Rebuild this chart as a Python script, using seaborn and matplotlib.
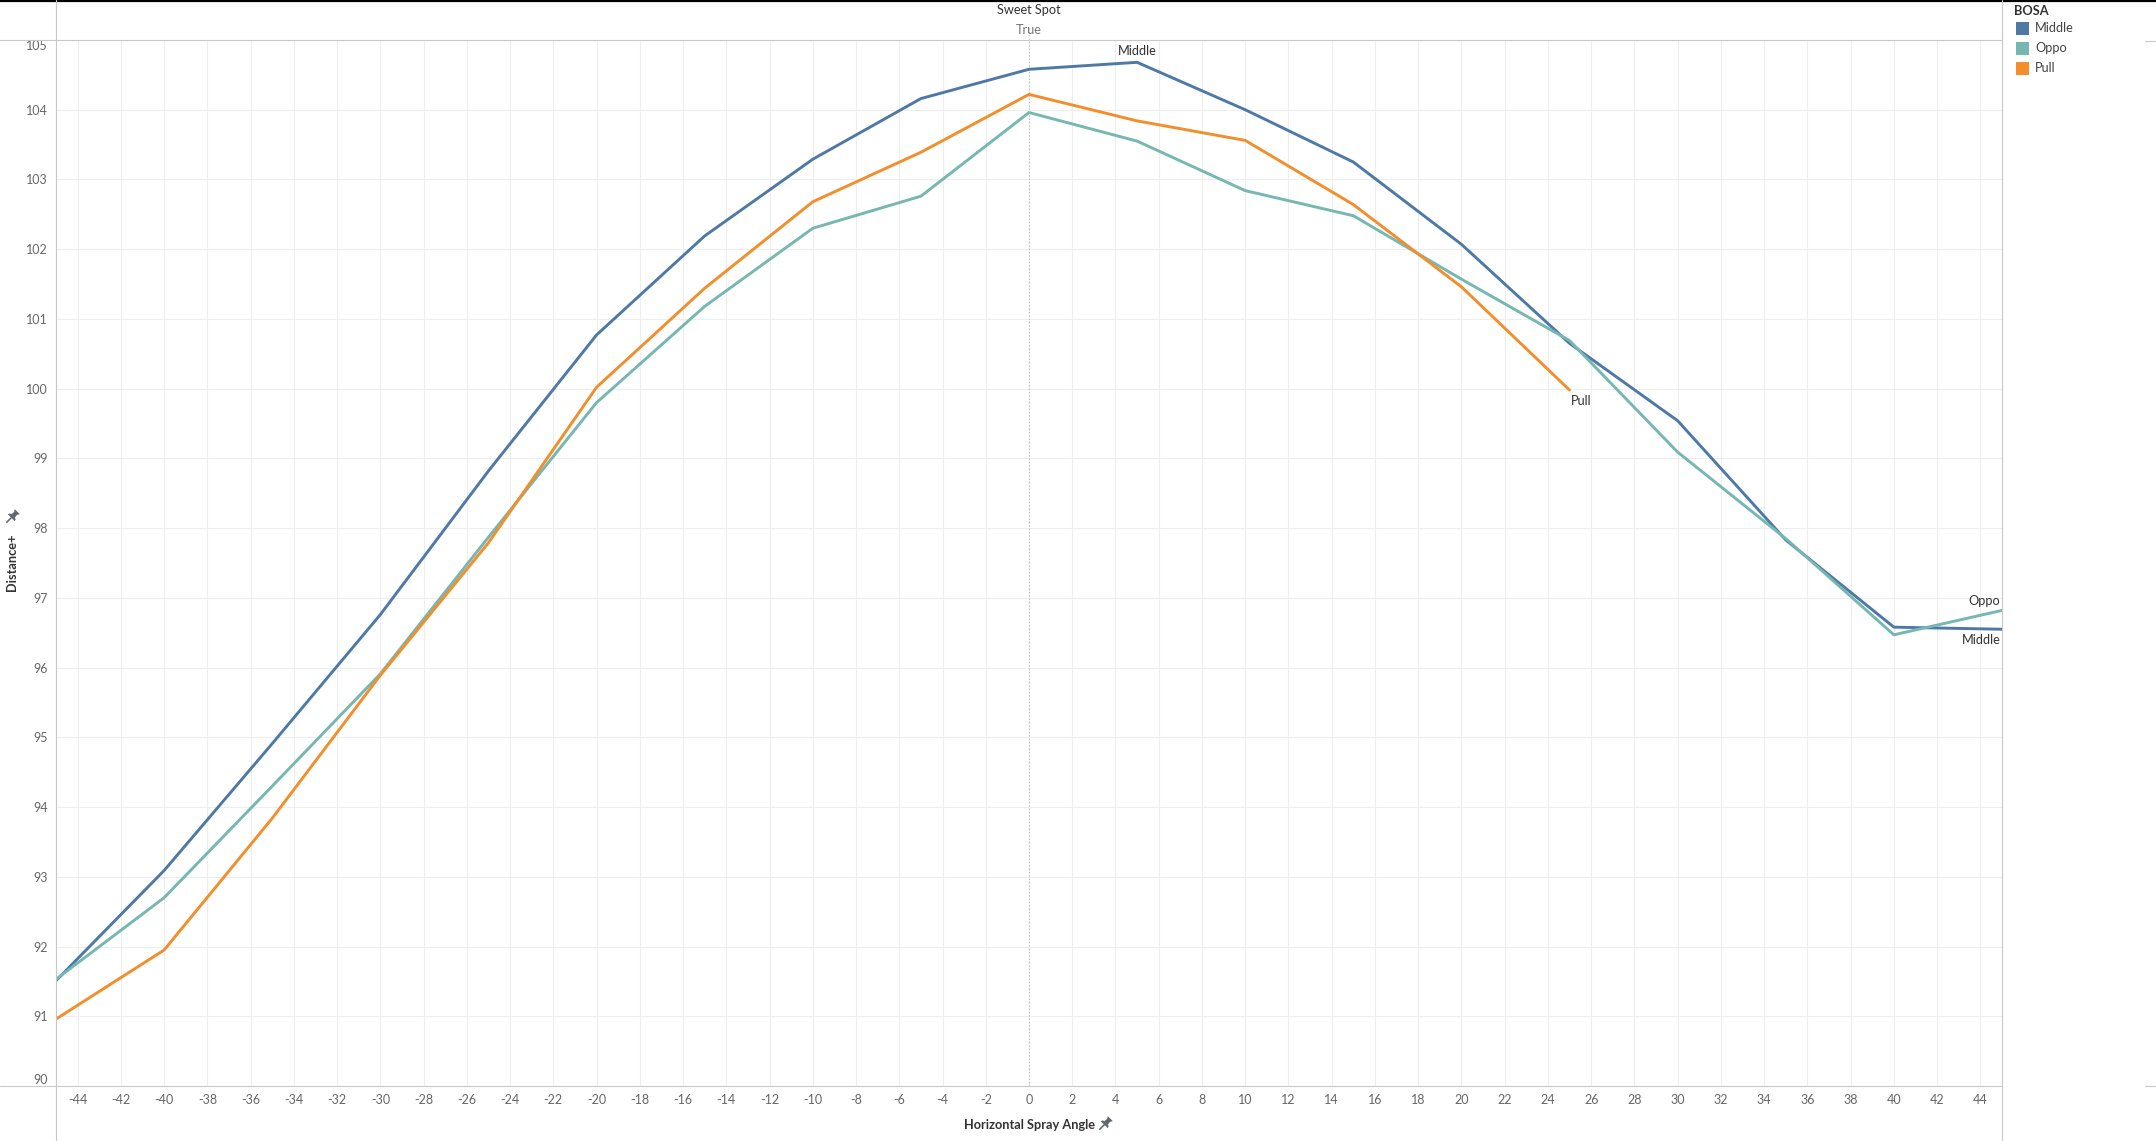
import numpy as np
import pandas as pd
import matplotlib
matplotlib.use("Agg")
import matplotlib.pyplot as plt
import seaborn as sns
from matplotlib.patches import Rectangle, Polygon
from matplotlib.lines import Line2D

# ---- data ----
angles = [-45, -40, -35, -30, -25, -20, -15, -10, -5, 0, 5, 10, 15, 20, 25, 30, 35, 40, 45]
middle = [91.51, 93.09, 94.91, 96.76, 98.82, 100.77, 102.19, 103.29, 104.16, 104.58,
          104.68, 104.00, 103.25, 102.07, 100.65, 99.54, 97.83, 96.58, 96.55]
oppo = [91.53, 92.70, 94.30, 95.91, 97.87, 99.80, 101.18, 102.30, 102.76, 103.96,
        103.55, 102.84, 102.48, 101.57, 100.69, 99.09, 97.85, 96.47, 96.82]
pull_angles = [-45, -40, -35, -30, -25, -20, -15, -10, -5, 0, 5, 10, 15, 20, 25]
pull = [90.96, 91.95, 93.84, 95.89, 97.79, 100.02, 101.44, 102.68, 103.39, 104.22,
        103.84, 103.56, 102.64, 101.46, 99.98]
series_names = ["Middle", "Oppo", "Pull"]
colors = ["#4e79a7", "#76b7b2", "#f28e2b"]
x_ticks = list(range(-44, 45, 2))
y_ticks = list(range(90, 106))

df = pd.concat([
    pd.DataFrame({"angle": angles, "dist": middle, "BOSA": "Middle"}),
    pd.DataFrame({"angle": angles, "dist": oppo, "BOSA": "Oppo"}),
    pd.DataFrame({"angle": pull_angles, "dist": pull, "BOSA": "Pull"}),
], ignore_index=True)

sns.set_style("white")
plt.rcParams['font.family'] = ['Lato', 'DejaVu Sans']

W, H = 2156, 1141
fig = plt.figure(figsize=(W / 100, H / 100), dpi=100)
L, R, T, B = 56, 2002, 40, 1086
ax = fig.add_axes([L / W, 1 - B / H, (R - L) / W, (B - T) / H])

pal = dict(zip(series_names, colors))
sns.lineplot(data=df, x="angle", y="dist", hue="BOSA", palette=pal,
             linewidth=2.1, ax=ax, legend=False, sort=True)

ax.set_xlim(-45, 45)
ax.set_ylim(90, 105)
ax.set_xticks(x_ticks)
ax.set_yticks(y_ticks)
ax.set_xticklabels([str(v) for v in x_ticks])
ax.set_yticklabels([str(v) for v in y_ticks])
ax.grid(True, color="#eeeeee", lw=0.8, zorder=0)
ax.set_axisbelow(True)
ax.axvline(0, color="#b5b5b5", ls=(0, (1, 2)), lw=0.8, zorder=1)
for s in ax.spines.values():
    s.set_visible(False)
FS = 9.2
ax.tick_params(axis="both", length=0, labelsize=9, labelcolor="#666666")
ax.tick_params(axis="x", pad=6)
ax.tick_params(axis="y", pad=6)
ax.set_xlabel("")
ax.set_ylabel("")
ylabs = ax.get_yticklabels()
ylabs[-1].set_va("top")
ylabs[0].set_va("bottom")

# ---- line-end labels ----
lab_kw = dict(textcoords="offset points", fontsize=FS, color="#333333",
              annotation_clip=False)
ax.annotate("Middle", (angles[10], middle[10]), xytext=(0, 8), ha="center", va="center", **lab_kw)
ax.annotate("Pull", (pull_angles[-1], pull[-1]), xytext=(1, -8), ha="left", va="center", **lab_kw)
ax.annotate("Oppo", (angles[-1], oppo[-1]), xytext=(-1, 7), ha="right", va="center", **lab_kw)
ax.annotate("Middle", (angles[-1], middle[-1]), xytext=(-1, -8), ha="right", va="center", **lab_kw)

# ---- frame lines (Tableau-like) ----
def fline(x0, y0, x1, y1, color="#c8c8c8", lw=0.8, **kw):
    fig.add_artist(Line2D([x0 / W, x1 / W], [1 - y0 / H, 1 - y1 / H],
                          transform=fig.transFigure, color=color, lw=lw, **kw))

fline(0, 1, W, 1, color="#000000", lw=1.6)
fline(0, T, R, T)
fline(0, B, R, B)
fline(L, 0, L, H)
fline(R, 0, R, H)
fline(2145, T + 1, W, T + 1)
fline(2145, B, W, B)
cxp = (L + R) / 2
fline(cxp, 28, cxp, T, color="#b5b5b5", ls=(0, (1, 2)))

# ---- pin icon ----
def pin(px, py, color="#5f6670"):
    ang = np.deg2rad(-45)
    rot = np.array([[np.cos(ang), -np.sin(ang)], [np.sin(ang), np.cos(ang)]])
    def tf(pts):
        pts = np.array(pts, float) @ rot.T
        return np.column_stack([(px + pts[:, 0]) / W, 1 - (py - pts[:, 1]) / H])
    head = [(-2.6, 1), (2.6, 1), (2.0, 5), (3.6, 7.5), (-3.6, 7.5), (-2.0, 5)]
    base = [(-5, -1), (5, -1), (4, 1.2), (-4, 1.2)]
    for poly in (head, base):
        fig.add_artist(Polygon(tf(poly), closed=True, transform=fig.transFigure,
                               color=color, lw=0))
    nd = tf([(0, -1), (0, -7.5)])
    fig.add_artist(Line2D(nd[:, 0], nd[:, 1], transform=fig.transFigure,
                          color=color, lw=1.1, solid_capstyle="round"))

# ---- header ----
cx = cxp / W
fig.text(cx, 1 - 10 / H, "Sweet Spot", ha="center", va="center", fontsize=FS, color="#333333")
fig.text(cx, 1 - 30 / H, "True", ha="center", va="center", fontsize=FS, color="#777777")

# ---- axis titles ----
fig.text(cx, 1 - 1125 / H, "Horizontal Spray Angle", ha="center", va="center",
         fontsize=FS, color="#333333", fontweight="bold")
pin(1105, 1124)
fig.text(12 / W, 1 - 562 / H, "Distance+", ha="center", va="center", rotation=90,
         fontsize=FS, color="#333333", fontweight="bold")
pin(12, 517)

# ---- legend ----
fig.text(2014 / W, 1 - 11 / H, "BOSA", ha="left", va="center", fontsize=FS,
         color="#333333", fontweight="bold")
for i, (name, c) in enumerate(zip(series_names, colors)):
    yc = 28 + 20 * i
    fig.add_artist(Rectangle((2016 / W, 1 - (yc + 6.5) / H), 13 / W, 13 / H,
                             transform=fig.transFigure, color=c, lw=0))
    fig.text(2035 / W, 1 - yc / H, name, ha="left", va="center", fontsize=FS, color="#444444")

fig.savefig("out.png", dpi=100)
